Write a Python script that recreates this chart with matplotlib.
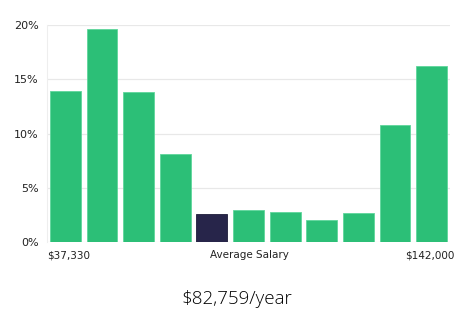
import matplotlib.pyplot as plt

# salary distribution, share of people per salary bucket (%)
shares = [13.9, 19.6, 13.8, 8.1, 2.6, 2.95, 2.75, 2.0, 2.65, 10.8, 16.2]
highlight = 4  # bucket holding the average salary
yticks = [0, 5, 10, 15, 20]
ytick_labels = ["0%", "5%", "10%", "15%", "20%"]
low_label = "$37,330"
mid_label = "Average Salary"
high_label = "$142,000"
title = "$82,759/year"

green = "#2cbf77"
dark = "#27254a"

fig = plt.figure(figsize=(4.74, 3.12), dpi=100)
ax = fig.add_axes([47 / 474, 1 - 242 / 312, 403 / 474, 217 / 312])

colors = [dark if i == highlight else green for i in range(len(shares))]
edges = ["#1e1d3a" if i == highlight else "#5fd69c" for i in range(len(shares))]
ax.bar(range(len(shares)), shares, width=0.84, color=colors, edgecolor=edges,
       linewidth=0.6, zorder=2)

ax.set_xlim(-0.5, len(shares) - 0.5)
ax.set_ylim(0, 20)
ax.set_yticks(yticks)
ax.set_yticklabels(ytick_labels, fontsize=8, color="#222222")
ax.set_xticks([])
ax.tick_params(axis="y", length=0, pad=6)
ax.grid(axis="y", color="#e8e8e8", linewidth=0.9, zorder=0)
ax.set_axisbelow(True)
ax.spines["left"].set_color("#eeeeee")
ax.spines["right"].set_visible(False)
ax.spines["top"].set_visible(False)
ax.spines["bottom"].set_visible(False)

fig.text(47 / 474, 1 - 255 / 312, low_label, ha="left", va="center", fontsize=7.5, color="#222222")
fig.text(249 / 474, 1 - 255 / 312, mid_label, ha="center", va="center", fontsize=7.5, color="#222222")
fig.text(454 / 474, 1 - 255 / 312, high_label, ha="right", va="center", fontsize=7.5, color="#222222")
fig.text(237 / 474, 1 - 299 / 312, title, ha="center", va="center", fontsize=13.5,
         family="Open Sans", weight="light", color="#000000")

fig.savefig("out.png", dpi=100)
